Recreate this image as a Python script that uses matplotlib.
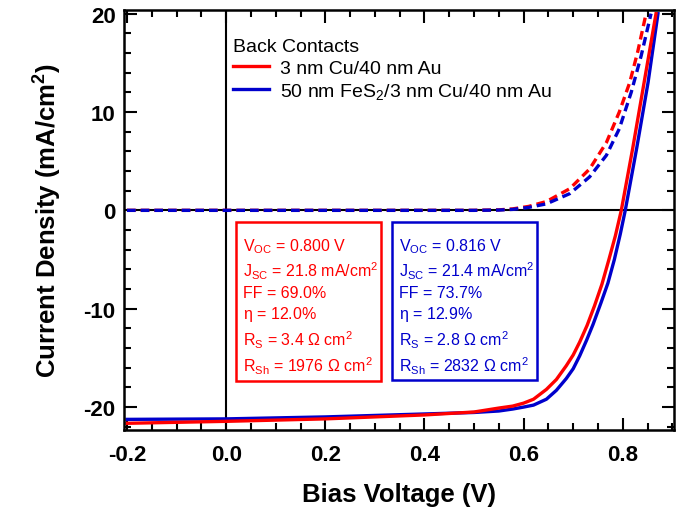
import matplotlib
matplotlib.use("Agg")
import matplotlib.pyplot as plt
from matplotlib.patches import Rectangle
from matplotlib.ticker import MultipleLocator

RED = "#ff0000"
BLUE = "#0000cc"

# light J-V curves (solid)
v_cu = [-0.2, 0.0, 0.2, 0.4, 0.5, 0.55, 0.578, 0.60, 0.62, 0.646, 0.666, 0.686,
        0.70, 0.713, 0.728, 0.743, 0.758, 0.772, 0.785, 0.797, 0.82, 0.843, 0.867]
j_cu = [-21.65, -21.45, -21.2, -20.8, -20.5, -20.1, -19.9, -19.6, -19.2, -18.2,
        -17.2, -15.8, -14.7, -13.4, -11.7, -9.7, -7.5, -5.0, -2.6, 0.0, 6.3,
        13.0, 20.0]
v_fes = [-0.2, 0.0, 0.2, 0.4, 0.5, 0.55, 0.578, 0.60, 0.62, 0.646, 0.666, 0.686,
         0.70, 0.713, 0.727, 0.74, 0.756, 0.77, 0.783, 0.795, 0.805, 0.828,
         0.851, 0.871]
j_fes = [-21.25, -21.2, -21.0, -20.7, -20.55, -20.4, -20.2, -20.0, -19.8, -19.2,
         -18.3, -17.1, -16.1, -14.8, -13.2, -11.6, -9.4, -7.4, -5.0, -2.4, 0.0,
         6.3, 13.0, 20.0]

# dark J-V curves (dashed)
v_cu_d = [-0.2, 0.0, 0.3, 0.5, 0.55, 0.578, 0.61, 0.646, 0.693, 0.733, 0.767,
          0.793, 0.814, 0.83, 0.847]
j_cu_d = [0.0, 0.0, 0.0, 0.0, 0.05, 0.15, 0.4, 0.9, 2.2, 4.2, 6.9, 10.0, 13.0,
          16.1, 20.0]
v_fes_d = [-0.2, 0.0, 0.3, 0.5, 0.55, 0.578, 0.61, 0.646, 0.693, 0.733, 0.767,
           0.793, 0.817, 0.837, 0.857]
j_fes_d = [0.0, 0.0, 0.0, 0.0, 0.03, 0.1, 0.3, 0.66, 1.7, 3.4, 5.6, 8.3, 12.0,
           15.7, 20.0]

labels = ["3 nm Cu/40 nm Au", "50 nm FeS$_2$/3 nm Cu/40 nm Au"]
box_cu = ("V$_{OC}$ = 0.800 V\nJ$_{SC}$ = 21.8 mA/cm$^2$\nFF = 69.0%\n"
          "$\\eta$ = 12.0%\nR$_S$ = 3.4 $\\Omega$ cm$^2$\nR$_{Sh}$ = 1976 $\\Omega$ cm$^2$")
box_fes = ("V$_{OC}$ = 0.816 V\nJ$_{SC}$ = 21.4 mA/cm$^2$\nFF = 73.7%\n"
           "$\\eta$ = 12.9%\nR$_S$ = 2.8 $\\Omega$ cm$^2$\nR$_{Sh}$ = 2832 $\\Omega$ cm$^2$")

plt.rcParams['font.family'] = ['Liberation Sans', 'DejaVu Sans']
plt.rcParams['axes.unicode_minus'] = False
plt.rcParams['mathtext.fontset'] = 'custom'
plt.rcParams['mathtext.rm'] = 'Liberation Sans'
plt.rcParams['mathtext.it'] = 'Liberation Sans'
plt.rcParams['mathtext.bf'] = 'Liberation Sans:bold'

fig = plt.figure(figsize=(6.83, 5.10), dpi=100)
ax = fig.add_axes([0.1816, 0.1555, 0.805, 0.8235])

ax.axhline(0, color="black", lw=1.5, zorder=1)
ax.axvline(0, color="black", lw=1.5, zorder=1)

dash = (0, (2.6, 1.5))
ax.plot(v_cu_d, j_cu_d, color=RED, lw=2.4, ls=dash)
ax.plot(v_fes_d, j_fes_d, color=BLUE, lw=2.4, ls=dash)
ax.plot(v_fes, j_fes, color=BLUE, lw=2.4, label=labels[1])
ax.plot(v_cu, j_cu, color=RED, lw=2.4, label=labels[0])

ax.set_xlim(-0.206, 0.903)
ax.set_ylim(-22.3, 20.4)

ax.xaxis.set_major_locator(MultipleLocator(0.2))
ax.xaxis.set_minor_locator(MultipleLocator(0.05))
ax.yaxis.set_major_locator(MultipleLocator(10))
ax.yaxis.set_minor_locator(MultipleLocator(2))
ax.tick_params(which="both", direction="in", top=True, right=True, width=1.5)
ax.tick_params(which="major", length=9, labelsize=16)
ax.tick_params(which="minor", length=5)
ax.tick_params(axis="x", which="major", pad=10.5)
ax.tick_params(axis="y", which="major", pad=6)
ax.set_xticks([-0.2, 0.0, 0.2, 0.4, 0.6, 0.8])
ax.set_xticklabels(["-0.2", "0.0", "0.2", "0.4", "0.6", "0.8"], fontweight="bold")
for lab in ax.get_yticklabels():
    lab.set_fontweight("bold")
for s in ax.spines.values():
    s.set_linewidth(1.8)

ax.set_xlabel("Bias Voltage (V)", fontsize=18.5, fontweight="bold", labelpad=12)
ax.set_ylabel("Current Density (mA/cm$^{\\mathbf{2}}$)", fontsize=18.5,
              fontweight="bold", labelpad=14)

h, l = ax.get_legend_handles_labels()
ax.legend(h[::-1], l[::-1], title="Back Contacts", loc="upper left",
          bbox_to_anchor=(0.198, 0.933), frameon=False, fontsize=14,
          title_fontsize=14, handlelength=1.85, handletextpad=0.57,
          labelspacing=0.22, borderaxespad=0, borderpad=0, alignment="left")

ax.add_patch(Rectangle((0.2036, 0.116), 0.2637, 0.3785, transform=ax.transAxes,
                       fill=False, ec=RED, lw=1.8, zorder=5))
ax.add_patch(Rectangle((0.4873, 0.118), 0.2637, 0.3765, transform=ax.transAxes,
                       fill=False, ec=BLUE, lw=1.8, zorder=5))
ax.text(0.2164, 0.4605, box_cu, transform=ax.transAxes, color=RED,
        fontsize=11.5, va="top", ha="left", linespacing=1.3)
ax.text(0.5, 0.4605, box_fes, transform=ax.transAxes, color=BLUE,
        fontsize=11.5, va="top", ha="left", linespacing=1.3)

fig.savefig("out.png", dpi=100)
